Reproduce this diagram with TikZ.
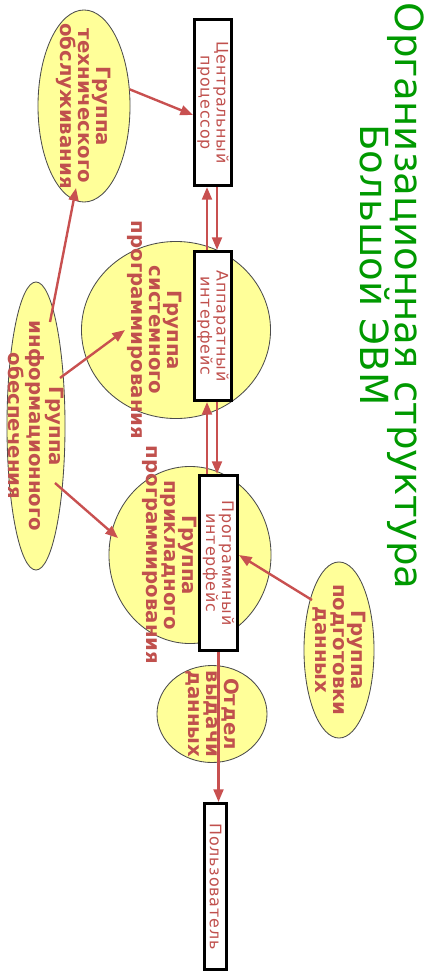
\documentclass[tikz,border=0pt]{standalone}
\usepackage{fontspec}
\setmainfont{DejaVu Sans}
\newfontfamily\boxfont[LetterSpace=5]{DejaVu Sans}
\usetikzlibrary{arrows.meta, shapes.geometric, positioning}
\definecolor{arrred}{HTML}{C85050}
\definecolor{txtred}{HTML}{C0504D}
\definecolor{grpfill}{HTML}{FFFF99}
\definecolor{ttlgreen}{HTML}{009900}

\begin{document}
\begin{tikzpicture}[
		x=0.025cm, y=-0.025cm,
		box/.style={draw, line width=2.1pt, fill=white, rotate=-90, inner sep=1pt,
			align=center, text=txtred, font=\boxfont\fontsize{11.3}{11.5}\selectfont},
		grp/.style={ellipse, draw=black!70, line width=0.6pt, fill=grpfill, inner sep=0pt},
		grptxt/.style={rotate=-90, align=center, text=txtred,
			font=\bfseries\fontsize{14}{12.8}\selectfont},
		ttl/.style={rotate=-90, anchor=base, text=ttlgreen, font=\fontsize{27.5}{27.5}\selectfont},
		arr/.style={-{Triangle[length=9pt, width=7pt]}, line width=1.7pt, arrred},
	]
		\useasboundingbox (0,0) rectangle (426,979);

		% Title
		\node[ttl] (title) at (395,296) {Организационная структура};
		\node[ttl] (subtitle) at (360,265) {Большой ЭВМ};

		% Groups
		\node[grp, minimum width=2.3cm, minimum height=4.8cm] (tech) at (84,106) {};
		\node[grp, minimum width=4.725cm, minimum height=4.425cm] (sys) at (176,330) {};
		\node[grp, minimum width=1.45cm, minimum height=7.2cm] (info) at (36,426) {};
		\node[grp, minimum width=4.05cm, minimum height=4.425cm] (app) at (190,555) {};
		\node[grp, minimum width=1.75cm, minimum height=4.4cm] (prep) at (339,650) {};
		\node[grp, minimum width=2.75cm, minimum height=2.425cm] (outd) at (212,714) {};

		% Machine chain
		\node[box, minimum width=4.15cm, minimum height=0.925cm] (cp) at (213,102.5) {Центральный\\процессор};
		\node[box, minimum width=3.725cm, minimum height=0.925cm] (hwi) at (213,326) {Аппаратный\\интерфейс};
		\node[box, minimum width=4.375cm, minimum height=0.95cm] (swi) at (218.5,563) {Программный\\интерфейс};
		\node[box, minimum width=4.15cm, minimum height=0.55cm] (user) at (215.5,886.5) {Пользователь};

		% Group labels
		\node[grptxt] (techtxt) at (tech) {Группа\\технического\\обслуживания};
		\node[grptxt] (systxt) at ([xshift=-0.525cm]sys.center) {Группа\\системного\\программирования};
		\node[grptxt] (infotxt) at (info) {Группа\\информационного\\обеспечения};
		\node[grptxt] (apptxt) at ([xshift=-0.5cm]app.center) {Группа\\прикладного\\программирования};
		\node[grptxt] (preptxt) at (prep) {Группа\\подготовки\\данных};
		\node[grptxt] (outtxt) at (outd) {Отдел\\выдачи\\данных};

		% Arrows
		\draw[arr] (tech.20) -- ([shift={(0,12.5)}]cp.south);
		\draw[arr] ([shift={(14,-104)}]info.center) -- ([shift={(-8,82)}]tech.center);
		\draw[arr] ([shift={(24,-48)}]info.center) -- ([shift={(-51,0)}]sys.center);
		\draw[arr] ([shift={(19,57)}]info.center) -- ([shift={(-72,-17)}]app.center);
		\draw[arr] ([shift={(-27,-50)}]prep.center) -- ([shift={(0,-8)}]swi.north);
		\draw[arr] ([shift={(-6,0)}]hwi.west) -- ([shift={(-6,0)}]cp.east);
		\draw[arr] ([shift={(4,0)}]cp.east) -- ([shift={(4,0)}]hwi.west);
		\draw[arr] ([shift={(-11.5,0)}]swi.west) -- ([shift={(-6,0)}]hwi.east);
		\draw[arr] ([shift={(4,0)}]hwi.east) -- ([shift={(-1.5,0)}]swi.west);
		\draw[arr] (swi.east) -- (swi.east |- user.west);
	\end{tikzpicture}
\end{document}
